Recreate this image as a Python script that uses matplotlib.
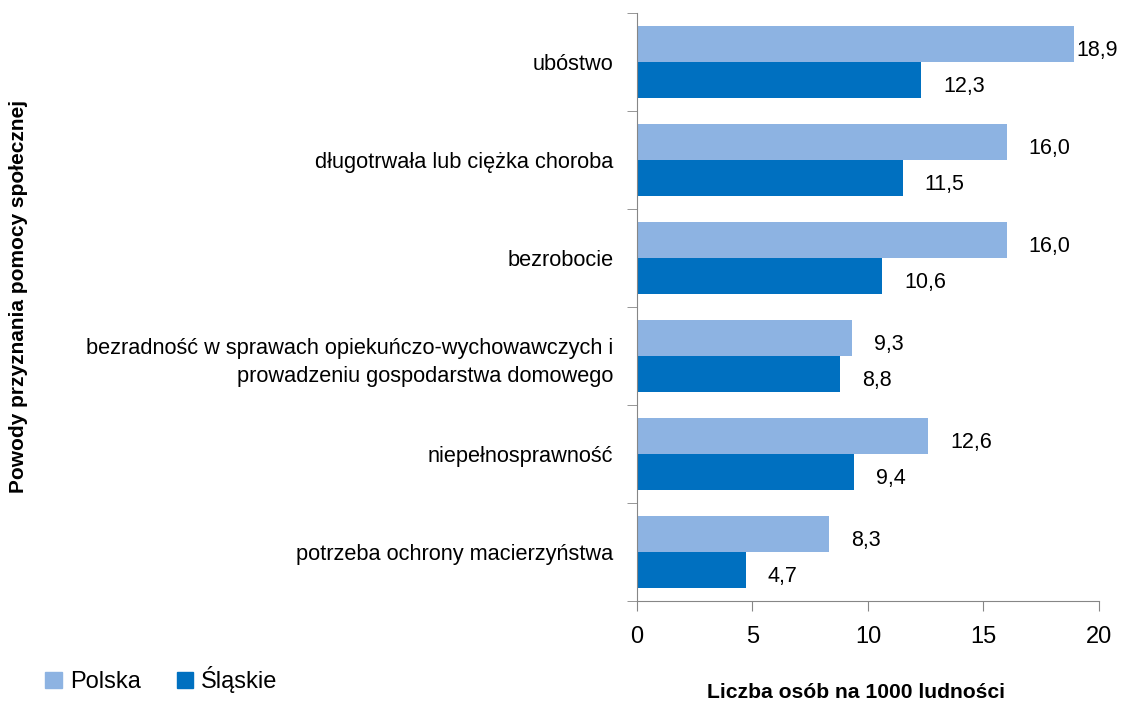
import numpy as np
import matplotlib.pyplot as plt
from matplotlib.patches import Patch

plt.rcParams['font.family'] = ['Liberation Sans', 'DejaVu Sans']

categories = ["ubóstwo",
              "długotrwała lub ciężka choroba",
              "bezrobocie",
              "bezradność w sprawach opiekuńczo-wychowawczych i\nprowadzeniu gospodarstwa domowego",
              "niepełnosprawność",
              "potrzeba ochrony macierzyństwa"]
polska = [18.9, 16.0, 16.0, 9.3, 12.6, 8.3]
slaskie = [12.3, 11.5, 10.6, 8.8, 9.4, 4.7]
series_names = ["Polska", "Śląskie"]
colors = ["#8DB3E2", "#0070C0"]

fig = plt.figure(figsize=(11.26, 7.05), dpi=100)
ax = fig.add_axes([0.5657, 0.1475, 0.4103, 0.834])

n = len(categories)
y = np.arange(n)
h = 0.367
ax.barh(y - h / 2, polska, height=h, color=colors[0])
ax.barh(y + h / 2, slaskie, height=h, color=colors[1])

def fmt(v):
    return f"{v:.1f}".replace(".", ",")

for i in range(n):
    for v, yy in ((polska[i], y[i] - h / 2), (slaskie[i], y[i] + h / 2)):
        off = 2 if v > 18 else 16
        ax.annotate(fmt(v), (v, yy), xytext=(off, -4.5), textcoords="offset points",
                    ha="left", va="center", fontsize=15.5)

ax.set_ylim(n - 0.5, -0.5)
ax.set_xlim(0, 20)
ax.set_xticks([0, 5, 10, 15, 20])
ax.tick_params(axis="x", length=7, color="#868686", labelsize=17, pad=11)
ax.set_yticks(y)
ax.set_yticklabels(categories, fontsize=15.7, linespacing=1.45)
ax.tick_params(axis="y", which="major", length=0, pad=17)
ax.set_yticks(np.arange(n + 1) - 0.5, minor=True)
ax.tick_params(axis="y", which="minor", length=7, color="#868686")
for s in ("top", "right"):
    ax.spines[s].set_visible(False)
for s in ("left", "bottom"):
    ax.spines[s].set_color("#868686")
for lab in ax.get_yticklabels():
    lab.set_multialignment("right")

fig.text(0.016, 0.58, "Powody przyznania pomocy społecznej", rotation=90,
         ha="center", va="center", fontsize=15, fontweight="bold")
fig.text(0.76, 0.018, "Liczba osób na 1000 ludności", ha="center", va="center",
         fontsize=15.2, fontweight="bold")

handles = [Patch(color=c, label=l) for c, l in zip(colors, series_names)]
fig.legend(handles=handles, loc="center left", bbox_to_anchor=(0.0215, 0.036),
           ncol=2, frameon=False, fontsize=17, handlelength=0.7, handleheight=0.7,
           handletextpad=0.35, columnspacing=1.5)

fig.savefig("out.png", dpi=100)
